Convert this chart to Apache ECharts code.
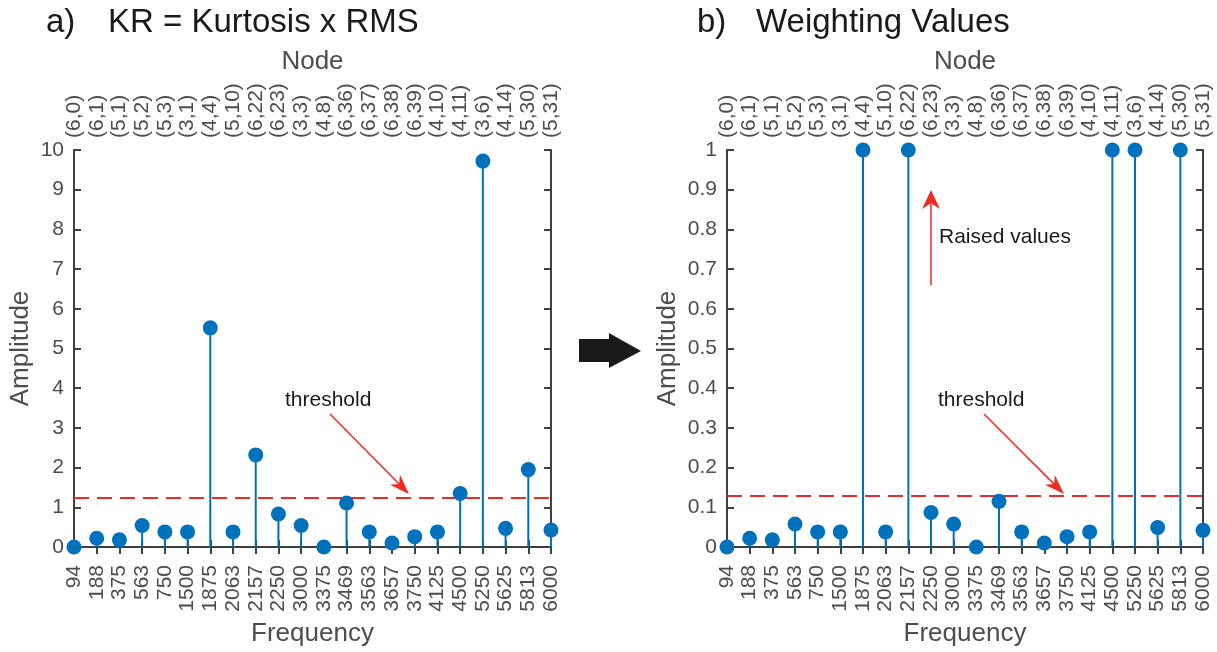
<!DOCTYPE html>
<html>
<head>
<meta charset="utf-8">
<script src="https://cdn.jsdelivr.net/npm/echarts@6/dist/echarts.min.js"></script>
<style>
  html, body { margin: 0; padding: 0; background: #fff; }
  #chart { width: 1217px; height: 652px; }
</style>
</head>
<body>
<div id="chart"></div>
<script>
// frequency bins (bottom axis) and wavelet nodes (top axis)
const freqs = ['94', '188', '375', '563', '750', '1500', '1875', '2063', '2157', '2250', '3000',
  '3375', '3469', '3563', '3657', '3750', '4125', '4500', '5250', '5625', '5813', '6000'];
const nodes = ['(6,0)', '(6,1)', '(5,1)', '(5,2)', '(5,3)', '(3,1)', '(4,4)', '(5,10)', '(6,22)', '(6,23)', '(3,3)',
  '(4,8)', '(6,36)', '(6,37)', '(6,38)', '(6,39)', '(4,10)', '(4,11)', '(3,6)', '(4,14)', '(5,30)', '(5,31)'];

// a) KR = Kurtosis x RMS
const krValues = [0, 0.22, 0.18, 0.54, 0.38, 0.38, 5.52, 0.38, 2.32, 0.83, 0.54,
  0, 1.11, 0.38, 0.1, 0.26, 0.38, 1.35, 9.72, 0.47, 1.95, 0.43];
const krThreshold = 1.24;

// b) Weighting values
const weightValues = [0, 0.022, 0.018, 0.058, 0.038, 0.038, 1, 0.038, 1, 0.087, 0.058,
  0, 0.115, 0.038, 0.01, 0.026, 0.038, 1, 1, 0.049, 1, 0.042];
const weightThreshold = 0.128;

const blue = '#0072BD';
const red = '#EE2A24';
const axisColor = '#404040';
const textColor = '#4D4D4D';
const font = 'Liberation Sans, Arial, Helvetica, sans-serif';
const tickFont = 21;

const myChart = echarts.init(document.getElementById('chart'));

function xAxes (gridIndex) {
    const common = {
        type: 'category',
        gridIndex: gridIndex,
        boundaryGap: false,
        axisLine: { lineStyle: { color: axisColor, width: 2 } },
        axisTick: { inside: true, length: 7, interval: 0, lineStyle: { color: axisColor, width: 2 } },
        splitLine: { show: false },
        nameLocation: 'middle',
        nameTextStyle: { color: textColor, fontSize: 26, fontFamily: font }
    };
    return [
        Object.assign({}, common, {
            position: 'bottom',
            data: freqs,
            name: 'Frequency',
            nameGap: 74,
            axisLabel: { rotate: 90, interval: 0, margin: 18, color: textColor, fontSize: tickFont, fontFamily: font }
        }),
        Object.assign({}, common, {
            position: 'top',
            data: nodes,
            name: 'Node',
            nameGap: 75,
            axisLabel: { rotate: 90, interval: 0, margin: 12, color: textColor, fontSize: tickFont, fontFamily: font }
        })
    ];
}

function yAxes (gridIndex, max, interval, nameGap) {
    const common = {
        type: 'value',
        gridIndex: gridIndex,
        min: 0,
        max: max,
        interval: interval,
        axisLine: { show: true, lineStyle: { color: axisColor, width: 2 } },
        axisTick: { show: true, inside: true, length: 7, lineStyle: { color: axisColor, width: 2 } },
        splitLine: { show: false }
    };
    return [
        Object.assign({}, common, {
            position: 'left',
            name: 'Amplitude',
            nameLocation: 'middle',
            nameGap: nameGap,
            nameTextStyle: { color: textColor, fontSize: 26, fontFamily: font },
            axisLabel: { margin: 10, color: textColor, fontSize: tickFont, fontFamily: font }
        }),
        Object.assign({}, common, {
            position: 'right',
            axisLabel: { show: false }
        })
    ];
}

function stemSeries (idx, values, threshold) {
    return [{
        type: 'bar',
        xAxisIndex: idx * 2,
        yAxisIndex: idx * 2,
        data: values,
        barWidth: 2,
        silent: true,
        itemStyle: { color: blue }
    }, {
        type: 'scatter',
        xAxisIndex: idx * 2,
        yAxisIndex: idx * 2,
        data: values,
        symbolSize: 15,
        clip: false,
        silent: true,
        z: 5,
        itemStyle: { color: blue, opacity: 1 },
        markLine: {
            symbol: 'none',
            silent: true,
            label: { show: false },
            lineStyle: { color: red, width: 2, type: [15, 8] },
            data: [{ yAxis: threshold }]
        }
    }];
}

// arrow = line + notched triangle head
function arrow (x1, y1, x2, y2, color, width, headLen, headW) {
    const a = Math.atan2(y2 - y1, x2 - x1);
    const c = Math.cos(a), s = Math.sin(a);
    const bx = x2 - headLen * c, by = y2 - headLen * s;
    const mx = x2 - headLen * 0.7 * c, my = y2 - headLen * 0.7 * s;
    const nx = -s * headW, ny = c * headW;
    return [{
        type: 'line',
        shape: { x1: x1, y1: y1, x2: mx, y2: my },
        style: { stroke: color, lineWidth: width }
    }, {
        type: 'polygon',
        shape: { points: [[x2, y2], [bx + nx, by + ny], [mx, my], [bx - nx, by - ny]] },
        style: { fill: color }
    }];
}

function text (x, y, str, size, color) {
    return {
        type: 'text', x: x, y: y,
        style: { text: str, fill: color, font: size + 'px ' + font, textVerticalAlign: 'middle' }
    };
}

const graphics = [].concat(
    text(46, 23, 'a)', 33, '#1A1A1A'),
    text(108, 23, 'KR = Kurtosis x RMS', 33, '#1A1A1A'),
    text(697, 23, 'b)', 33, '#1A1A1A'),
    text(756, 23, 'Weighting Values', 33, '#1A1A1A'),
    text(285, 400, 'threshold', 21, '#1A1A1A'),
    arrow(330, 414, 409, 494, red, 1.5, 20, 7),
    text(938, 400, 'threshold', 21, '#1A1A1A'),
    arrow(984, 414, 1064, 494, red, 1.5, 20, 7),
    text(939, 237, 'Raised values', 21, '#1A1A1A'),
    arrow(931, 285, 931, 190, red, 1.5, 19, 9),
    [{
        type: 'polygon',
        shape: { points: [[579, 339], [609, 339], [609, 333], [641, 351], [609, 368], [609, 362], [579, 362]] },
        style: { fill: '#1A1A1A' }
    }]
);

const option = {
    backgroundColor: '#fff',
    animation: false,
    grid: [
        { left: 74, top: 150, width: 477, height: 399 },
        { left: 727, top: 150, width: 476, height: 399 }
    ],
    xAxis: xAxes(0).concat(xAxes(1)),
    yAxis: yAxes(0, 10, 1, 40).concat(yAxes(1, 1, 0.1, 46)),
    series: stemSeries(0, krValues, krThreshold).concat(stemSeries(1, weightValues, weightThreshold)),
    graphic: graphics
};
myChart.setOption(option);
window.addEventListener('resize', () => {
    myChart.resize();
});
</script>
</body>
</html>
